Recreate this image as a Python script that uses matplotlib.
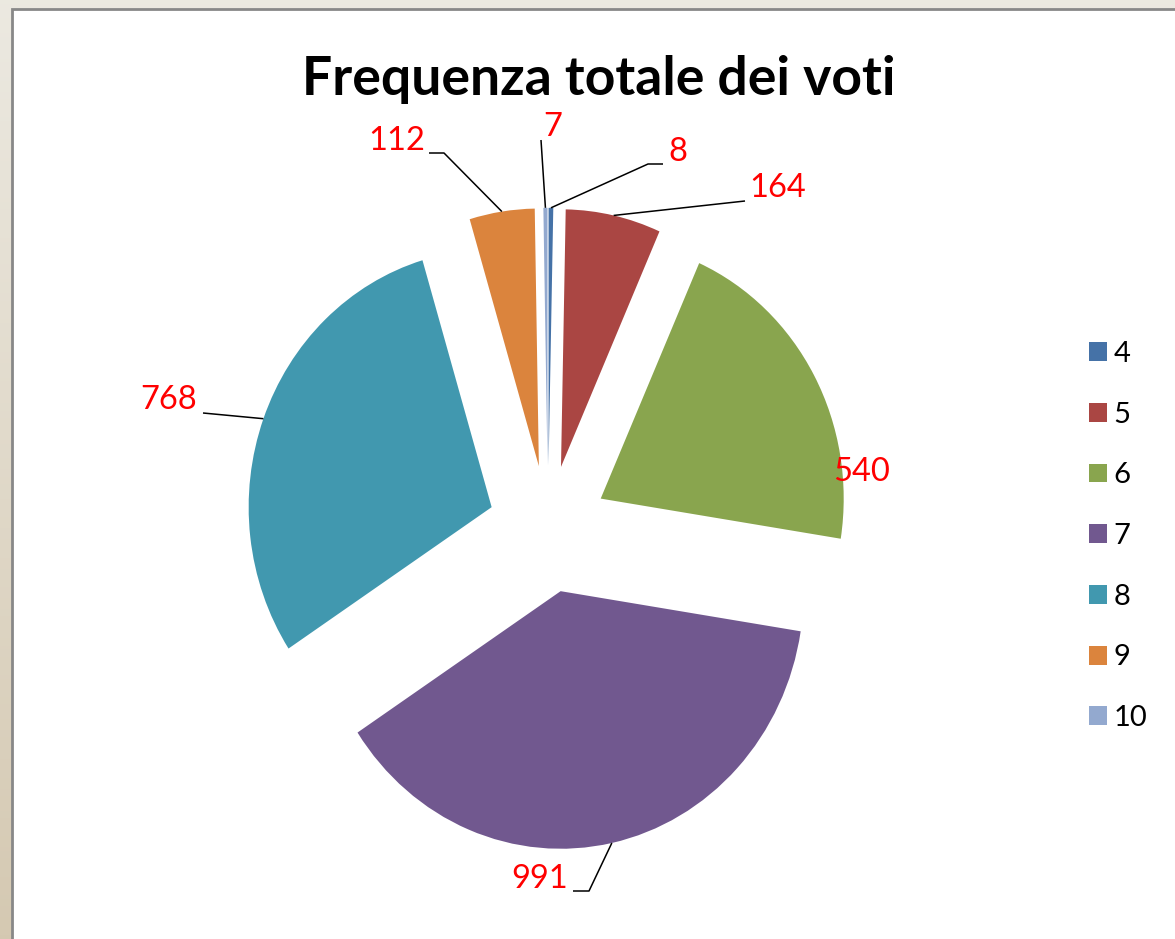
import matplotlib.pyplot as plt
from matplotlib.patches import Rectangle
import numpy as np

plt.rcParams['font.family'] = ['Lato', 'DejaVu Sans']

voti = ['4', '5', '6', '7', '8', '9', '10']
frequenze = [8, 164, 540, 991, 768, 112, 7]
colori = ['#4572A7', '#AA4643', '#89A54E', '#71588F', '#4198AF', '#DB843D', '#93A9CF']

W, H = 1175, 939
SY = 1.06  # the original pie is a bit taller than wide


def P(px, py):
    # pixel position (y down) -> data coords
    return (px, (H - py) / SY)


# label placement in pixels: text anchor, alignment, leader points after the slice edge
lab_pos = [(668, 152), (749, 188), (833, 472), (568, 879), (197, 400), (425, 141), (553, 127)]
lab_ha = ['left', 'left', 'left', 'right', 'right', 'right', 'center']
leader = [[(648, 164), (663, 164)],
          [(745, 201)],
          [],
          [(589, 891), (573, 891)],
          [(203, 413)],
          [(444, 153), (429, 153)],
          [(541, 140)]]

fig = plt.figure(figsize=(W / 100, H / 100), dpi=100)

# beige window background with the white chart area on top
bg = fig.add_axes([0, 0, 1, 1], zorder=-2)
grad = np.linspace(0, 1, 256).reshape(-1, 1, 1)
top = np.array([0.925, 0.914, 0.882])
bottom = np.array([0.835, 0.788, 0.698])
bg.imshow(top + (bottom - top) * grad, aspect='auto', extent=(0, 1, 0, 1), origin='upper')
bg.add_patch(Rectangle((12 / W, -0.1), 1.1, 1.1 - 9 / H, transform=bg.transAxes,
                       facecolor='white', edgecolor='#888888', lw=2))
bg.set_xlim(0, 1)
bg.set_ylim(0, 1)
bg.axis('off')

ax = fig.add_axes([0, 0, 1, 1])
ax.patch.set_alpha(0)

r = 243
wedges, _ = ax.pie(frequenze, colors=colori, startangle=90, counterclock=False,
                   radius=r, center=P(548, 529), explode=[60] * len(frequenze),
                   wedgeprops=dict(linewidth=0), frame=True)
ax.set_aspect('auto')
ax.set_xlim(0, W)
ax.set_ylim(0, H / SY)
ax.axis('off')

for w, val, pos, ha, pts in zip(wedges, frequenze, lab_pos, lab_ha, leader):
    if pts:
        a = np.deg2rad((w.theta1 + w.theta2) / 2)
        cx, cy = w.center
        xs = [cx + r * np.cos(a)] + [P(*p)[0] for p in pts]
        ys = [cy + r * np.sin(a)] + [P(*p)[1] for p in pts]
        ax.plot(xs, ys, color='black', lw=1.1, solid_capstyle='butt')
    ax.text(*P(*pos), str(val), color='#FF0000', fontsize=23.5, ha=ha, va='center')

fig.text(599 / W, 1 - 95 / H, 'Frequenza totale dei voti', fontsize=38.5,
         fontweight='bold', ha='center', va='baseline')

ax.legend(wedges, voti, loc='center left', bbox_to_anchor=(1089 / W, 1 - 536 / H),
          bbox_transform=fig.transFigure, frameon=False, fontsize=21,
          handlelength=0.62, handleheight=0.62, handletextpad=0.22,
          labelspacing=1.19, borderpad=0, borderaxespad=0)

fig.savefig('out.png', dpi=100)
